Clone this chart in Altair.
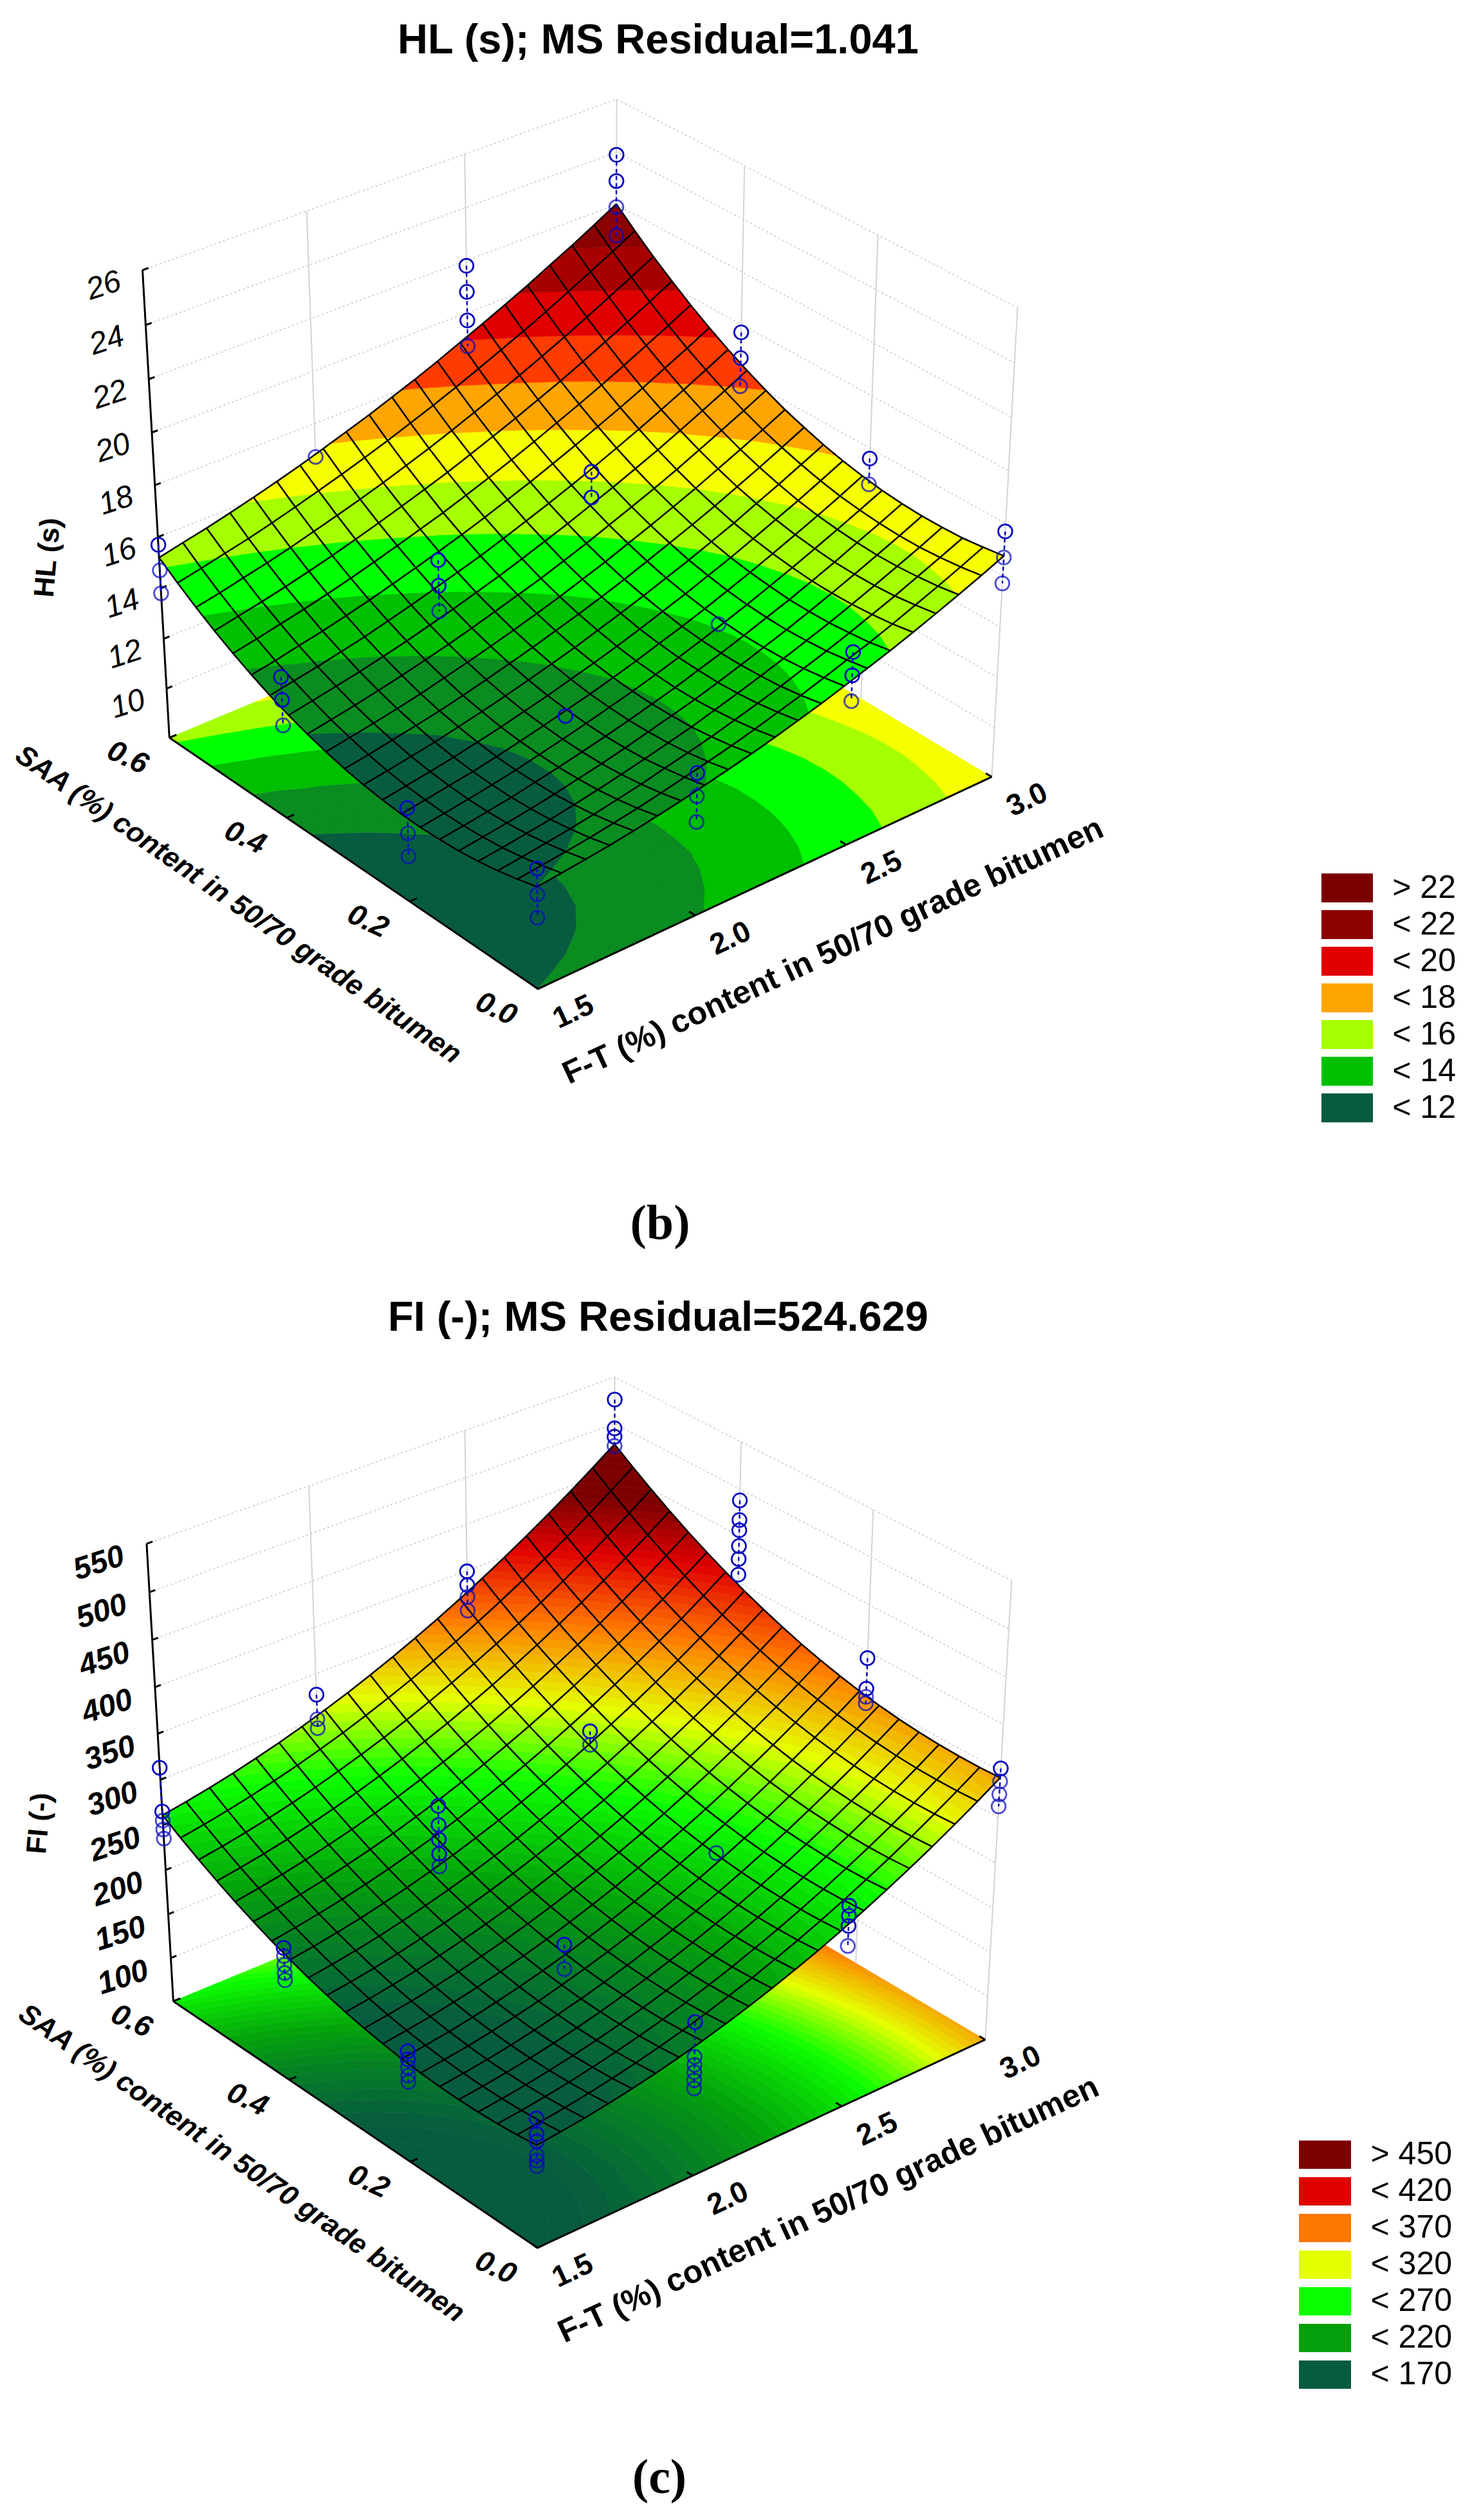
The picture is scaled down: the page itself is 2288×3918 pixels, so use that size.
import altair as alt
import numpy as np

FT_TICKS = [1.5, 2.0, 2.5, 3.0]
SAA_TICKS = [0.0, 0.2, 0.4, 0.6]
HL_Z_TICKS = [10, 12, 14, 16, 18, 20, 22, 24, 26]
FI_Z_TICKS = [100, 150, 200, 250, 300, 350, 400, 450, 500, 550]

# surface values: rows SAA 0.00..0.60 (step 0.03), columns F-T 1.5..3.0 (step 0.075)
HL_GRID = [
[12.00,12.10,12.21,12.33,12.47,12.63,12.80,12.99,13.19,13.40,13.63,13.88,14.14,14.42,14.71,15.01,15.33,15.67,16.02,16.38,16.76],
[11.78,11.89,12.00,12.12,12.27,12.43,12.61,12.81,13.01,13.22,13.46,13.72,13.98,14.27,14.57,14.86,15.19,15.54,15.89,16.26,16.65],
[11.60,11.71,11.83,11.96,12.11,12.28,12.46,12.67,12.87,13.09,13.34,13.59,13.86,14.16,14.45,14.77,15.10,15.44,15.81,16.18,16.56],
[11.46,11.57,11.70,11.83,11.99,12.16,12.35,12.55,12.77,12.99,13.25,13.51,13.79,14.08,14.39,14.70,15.04,15.39,15.76,16.13,16.53],
[11.36,11.48,11.61,11.75,11.91,12.10,12.28,12.49,12.72,12.95,13.19,13.46,13.75,14.05,14.35,14.68,15.02,15.38,15.75,16.13,16.53],
[11.30,11.42,11.56,11.70,11.88,12.06,12.26,12.47,12.69,12.93,13.18,13.47,13.75,14.05,14.37,14.69,15.04,15.40,15.79,16.17,16.57],
[11.28,11.41,11.55,11.70,11.87,12.07,12.27,12.49,12.72,12.96,13.22,13.50,13.79,14.10,14.42,14.76,15.11,15.48,15.86,16.25,16.65],
[11.30,11.44,11.59,11.73,11.91,12.11,12.32,12.55,12.77,13.02,13.29,13.58,13.87,14.18,14.51,14.85,15.21,15.58,15.96,16.36,16.78],
[11.36,11.50,11.65,11.81,12.00,12.19,12.41,12.63,12.88,13.13,13.40,13.69,14.00,14.31,14.65,14.98,15.35,15.73,16.11,16.52,16.94],
[11.46,11.60,11.76,11.92,12.12,12.32,12.54,12.77,13.02,13.27,13.56,13.85,14.16,14.48,14.81,15.16,15.52,15.92,16.31,16.72,17.14],
[11.60,11.75,11.92,12.09,12.27,12.48,12.71,12.95,13.20,13.47,13.74,14.04,14.35,14.69,15.03,15.38,15.75,16.14,16.54,16.96,17.39],
[11.78,11.94,12.10,12.28,12.47,12.70,12.92,13.17,13.42,13.69,13.97,14.28,14.59,14.94,15.28,15.64,16.01,16.41,16.81,17.23,17.66],
[12.00,12.16,12.33,12.52,12.72,12.94,13.17,13.42,13.69,13.96,14.24,14.55,14.87,15.22,15.57,15.93,16.31,16.72,17.13,17.55,17.99],
[12.26,12.43,12.61,12.79,13.00,13.22,13.46,13.71,13.98,14.26,14.56,14.88,15.20,15.55,15.90,16.27,16.65,17.06,17.48,17.91,18.36],
[12.56,12.74,12.91,13.11,13.31,13.55,13.79,14.05,14.33,14.60,14.91,15.23,15.56,15.91,16.27,16.65,17.04,17.45,17.87,18.31,18.76],
[12.90,13.07,13.27,13.46,13.68,13.91,14.17,14.43,14.70,14.99,15.30,15.63,15.96,16.32,16.69,17.07,17.46,17.87,18.31,18.74,19.20],
[13.28,13.46,13.66,13.86,14.08,14.32,14.58,14.85,15.13,15.41,15.73,16.06,16.40,16.76,17.14,17.52,17.92,18.34,18.78,19.22,19.68],
[13.70,13.89,14.08,14.29,14.52,14.76,15.03,15.30,15.59,15.89,16.20,16.54,16.89,17.25,17.63,18.01,18.42,18.86,19.29,19.74,20.21],
[14.16,14.35,14.56,14.77,15.00,15.26,15.52,15.79,16.08,16.39,16.71,17.05,17.41,17.78,18.16,18.56,18.97,19.40,19.85,20.30,20.76],
[14.66,14.86,15.07,15.28,15.52,15.78,16.05,16.33,16.63,16.94,17.27,17.61,17.97,18.35,18.74,19.13,19.55,19.99,20.44,20.89,21.37],
[15.20,15.41,15.61,15.84,16.08,16.34,16.61,16.91,17.21,17.52,17.86,18.20,18.57,18.96,19.35,19.75,20.17,20.62,21.06,21.53,22.02],
]
FI_GRID = [
[164.0,166.7,170.0,174.0,178.7,184.0,190.0,196.6,203.9,211.9,220.5,229.8,239.7,250.3,261.6,273.5,286.1,299.3,313.2,327.8,343.0],
[161.1,163.9,167.3,171.4,176.2,181.6,187.7,194.4,201.8,209.9,218.5,227.9,237.9,248.6,260.0,272.0,284.7,298.0,312.0,326.7,342.0],
[159.1,162.0,165.5,169.7,174.6,180.1,186.2,193.0,200.5,208.7,217.5,227.0,237.1,247.9,259.4,271.4,284.2,297.6,311.7,326.5,341.9],
[157.9,160.9,164.5,168.8,173.7,179.3,185.6,192.5,200.1,208.4,217.2,226.8,237.0,247.9,259.5,271.7,284.6,298.0,312.2,327.1,342.6],
[157.5,160.6,164.3,168.6,173.7,179.4,185.8,192.8,200.4,208.8,217.8,227.5,237.8,248.7,260.4,272.7,285.7,299.3,313.5,328.5,344.1],
[157.9,161.1,164.8,169.3,174.5,180.3,186.7,193.8,201.6,210.1,219.1,228.9,239.3,250.4,262.1,274.5,287.6,301.3,315.6,330.7,346.4],
[159.1,162.4,166.2,170.8,176.1,181.9,188.5,195.7,203.6,212.1,221.3,231.2,241.6,252.8,264.7,277.1,290.3,304.1,318.6,333.7,349.5],
[161.1,164.5,168.4,173.1,178.5,184.4,191.1,198.4,206.3,215.0,224.2,234.2,244.8,256.0,268.0,280.6,293.8,307.7,322.3,337.5,353.4],
[164.0,167.5,171.5,176.3,181.7,187.8,194.6,201.9,210.0,218.7,228.1,238.2,248.8,260.2,272.2,284.9,298.3,312.2,326.9,342.2,358.2],
[167.6,171.2,175.3,180.2,185.7,191.9,198.7,206.2,214.3,223.2,232.6,242.8,253.6,265.0,277.2,289.9,303.4,317.4,332.2,347.6,363.7],
[172.0,175.7,179.9,184.9,190.5,196.8,203.7,211.3,219.5,228.5,238.0,248.3,259.1,270.7,282.9,295.8,309.3,323.5,338.3,353.9,370.0],
[177.3,181.0,185.4,190.4,196.2,202.5,209.6,217.2,225.6,234.6,244.3,254.6,265.5,277.2,289.5,302.5,316.1,330.4,345.3,361.0,377.2],
[183.4,187.2,191.7,196.8,202.7,209.1,216.2,224.0,232.4,241.6,251.3,261.7,272.8,284.5,297.0,310.0,323.7,338.1,353.1,368.9,385.2],
[190.2,194.1,198.7,203.9,209.8,216.4,223.6,231.4,240.0,249.2,259.0,269.6,280.7,292.5,305.1,318.2,332.0,346.5,361.6,377.4,393.9],
[197.9,201.9,206.6,211.9,217.9,224.5,231.9,239.8,248.4,257.8,267.7,278.3,289.5,301.5,314.1,327.3,341.3,355.8,371.0,387.0,403.5],
[206.4,210.5,215.2,220.7,226.8,233.5,240.9,249.0,257.7,267.1,277.1,287.9,299.2,311.2,323.9,337.3,351.3,365.9,381.2,397.3,413.9],
[215.7,219.9,224.7,230.3,236.5,243.3,250.8,258.9,267.8,277.3,287.4,298.2,309.6,321.7,334.6,348.0,362.1,376.8,392.2,408.4,425.1],
[225.8,230.1,235.0,240.6,247.0,253.9,261.5,269.7,278.6,288.2,298.4,309.4,320.9,333.1,346.0,359.5,373.7,388.5,404.1,420.3,437.1],
[236.7,241.1,246.1,251.8,258.2,265.2,273.0,281.3,290.3,300.0,310.3,321.3,332.9,345.2,358.2,371.8,386.1,401.1,416.7,433.0,449.9],
[248.4,252.9,258.0,263.8,270.3,277.4,285.2,293.6,302.7,312.5,322.9,334.0,345.7,358.2,371.3,385.0,399.4,414.4,430.1,446.5,463.5],
[261.0,265.6,270.8,276.7,283.3,290.5,298.4,306.9,316.1,326.0,336.5,347.7,359.5,372.0,385.2,399.0,413.5,428.6,444.4,460.9,478.0],
]

# observations: rows SAA 0/0.2/0.4/0.6, columns F-T 1.5/2/2.5/3
HL_OBS = [
[[12.7,11.7,10.8],[13.6,12.7,11.7],[15.6,14.7,13.7],[17.7,16.7,15.7]],
[[11.7,10.7,9.8],[12.6],[13.6],[17.6,16.6]],
[[13.6,12.7,11.7],[15.6,14.6,13.6],[16.6,15.6],[19.7,18.7,17.6]],
[[15.7,14.7,13.8],[16.7],[21.8,20.8,19.7,18.7],[23.9,22.9,21.9,20.8]],
]
FI_OBS = [
[[193,176,168,153,147,141],[221,183,174,166,157,148],[274,263,252,230],[353,339,325,312]],
[[174,165,156,147,140],[217,190],[247],[393,360,351,344]],
[[199,190,180,171,163],[285,264,248,232,218],[300,285],[488,467,456,439,425,408]],
[[313,265,255,245,235],[327,300,290],[399,384,371,356],[526,495,486,476]],
]

HL_EDGES = [-1e9, 12, 13, 14, 15, 16, 17, 18, 19, 20, 21, 22, 1e9]
HL_COLORS = ["#075C40", "#0A8C20", "#00BE00", "#00FF00", "#A5FF00", "#F5FF00", "#FFA500",
             "#FF3C00", "#E00000", "#A80000", "#8B0000", "#7A0000"]
FI_EDGES = [-1e9] + list(range(125, 485, 5)) + [1e9]
FI_STOPS = [170, 220, 270, 312, 360, 405, 440]
FI_STOP_COLORS = ["#075C40", "#04A00C", "#0CFF00", "#E4FF00", "#FF7800", "#E00000", "#7D0000"]

HL_LEGEND = ["> 22", "< 22", "< 20", "< 18", "< 16", "< 14", "< 12"]
HL_LEGEND_COLORS = ["#7A0000", "#8B0000", "#E00000", "#FFA500", "#A5FF00", "#00C000", "#075C40"]
FI_LEGEND = ["> 450", "< 420", "< 370", "< 320", "< 270", "< 220", "< 170"]
FI_LEGEND_COLORS = ["#7D0000", "#E00000", "#FF7800", "#E4FF00", "#0CFF00", "#04A00C", "#075C40"]

PANELS = [
    dict(title="HL (s); MS Residual=1.041", tpos=(1023, 63), caption="(b)", cpos=(1026, 1903),
         ztitle="HL (s)", zpos=(75, 867), grid=HL_GRID, obs=HL_OBS, zticks=HL_Z_TICKS,
         base=8, top=26, edges=HL_EDGES, colors=HL_COLORS,
         legend=HL_LEGEND, lcolors=HL_LEGEND_COLORS, lx=(2054, 2134, 2263), ly=(1358, 57.0, 45),
         zoff=(-60, 25), zweight="normal",
         saa=(370, 1407), ft=(1295, 1479),
         calib=[(0, 0, 0, 835.5, 1541), (0, 1, 0, 260, 1149), (1, 0, 0, 1545, 1207), (1, 1, 0, 957.6, 858),
                (0, 1, 1, 222, 419), (1, 0, 1, 1583, 478), (1, 1, 1, 957, 156),
                (0, 1/3, 0, 641, 1400.6), (0, 2/3, 0, 451.5, 1270), (1/3, 0, 0, 1077, 1423), (2/3, 0, 0, 1310, 1313),
                (0, 1, 1/9, 257, 1069)]),
    dict(title="FI (-); MS Residual=524.629", tpos=(1023, 2049), caption="(c)", cpos=(1025, 3853),
         ztitle="FI (-)", zpos=(62, 2835), grid=FI_GRID, obs=FI_OBS, zticks=FI_Z_TICKS,
         base=50, top=550, edges=FI_EDGES, colors=None,
         legend=FI_LEGEND, lcolors=FI_LEGEND_COLORS, lx=(2019, 2100, 2257), ly=(3328, 57.0, 44),
         zoff=(-74, 31), zweight="bold",
         saa=(375, 3364), ft=(1288, 3436),
         calib=[(0, 0, 0, 835.5, 3497.6), (0, 1, 0, 268, 3113.6), (1, 0, 0, 1535, 3171), (1, 1, 0, 953, 2829),
                (0, 1, 1, 228, 2399), (1, 0, 1, 1573, 2457.5), (1, 1, 1, 955, 2142),
                (0, 1/3, 0, 641, 3360.5), (0, 2/3, 0, 451.5, 3231.6), (1/3, 0, 0, 1074, 3382.8), (2/3, 0, 0, 1304, 3273),
                (0, 1, 0.1, 265, 3043.5)]),
]


def fit_camera(calib):
    ox, oy = calib[0][3], calib[0][4]
    rows, rhs = [], []
    for u, v, w, x, y in calib:
        X, Y = (x - ox) / 1000, (y - oy) / 1000
        rows.append([u, v, w, 1, 0, 0, 0, 0, -X * u, -X * v, -X * w]); rhs.append(X)
        rows.append([0, 0, 0, 0, u, v, w, 1, -Y * u, -Y * v, -Y * w]); rhs.append(Y)
    p = np.linalg.lstsq(np.array(rows), np.array(rhs), rcond=None)[0]

    def cam(u, v, w):
        d = p[8] * u + p[9] * v + p[10] * w + 1
        return (float((p[0] * u + p[1] * v + p[2] * w + p[3]) / d * 1000 + ox),
                float((p[4] * u + p[5] * v + p[6] * w + p[7]) / d * 1000 + oy))
    return cam


def clip_poly(poly, level, keep_above):
    out = []
    n = len(poly)
    for k in range(n):
        a, b = poly[k], poly[(k + 1) % n]
        ina = (a[2] >= level) if keep_above else (a[2] <= level)
        inb = (b[2] >= level) if keep_above else (b[2] <= level)
        if ina:
            out.append(a)
        if ina != inb:
            f = (level - a[2]) / (b[2] - a[2])
            out.append((a[0] + f * (b[0] - a[0]), a[1] + f * (b[1] - a[1]), level))
    return out


def hex_mix(c1, c2, f):
    a = [int(c1[i:i + 2], 16) for i in (1, 3, 5)]
    b = [int(c2[i:i + 2], 16) for i in (1, 3, 5)]
    return "#%02X%02X%02X" % tuple(round(x + f * (y - x)) for x, y in zip(a, b))


def fi_color(v):
    if v <= FI_STOPS[0]:
        return FI_STOP_COLORS[0]
    for k in range(len(FI_STOPS) - 1):
        if v <= FI_STOPS[k + 1]:
            return hex_mix(FI_STOP_COLORS[k], FI_STOP_COLORS[k + 1], (v - FI_STOPS[k]) / (FI_STOPS[k + 1] - FI_STOPS[k]))
    return FI_STOP_COLORS[-1]


lines = {"grid": [], "vert": [], "axis": [], "mesh": [], "conn": []}
floor_feats, surf_feats, points, rects = [], [], [], []
texts = {}


def add_line(style, name, pts):
    for o, (x, y) in enumerate(pts):
        lines[style].append({"g": name, "o": o, "x": round(x, 1), "y": round(y, 1)})


def add_text(key, t, x, y, a, s):
    texts.setdefault(key, []).append({"t": t, "x": x, "y": y, "a": a % 360, "s": s})


for pn, P in enumerate(PANELS):
    cam = fit_camera(P["calib"])
    base, top = P["base"], P["top"]
    grid = np.array(P["grid"])
    nj, ni = grid.shape
    W = lambda z: (z - base) / (top - base)

    # contour bands, one multipolygon per band for the surface and for the floor
    edges = P["edges"]
    for b in range(len(edges) - 1):
        lo, hi = edges[b], edges[b + 1]
        if P["colors"] is not None:
            col = P["colors"][b]
        else:
            col = fi_color(edges[b + 1] - 2.5 if b + 1 < len(edges) - 1 else edges[b] + 2.5)
        sp, fp = [], []
        for j in range(nj - 1):
            for i in range(ni - 1):
                va = (i, j, grid[j][i]); vb = (i + 1, j, grid[j][i + 1])
                vc = (i + 1, j + 1, grid[j + 1][i + 1]); vd = (i, j + 1, grid[j + 1][i])
                for tri in ((va, vb, vc), (va, vc, vd)):
                    vals = [q[2] for q in tri]
                    if max(vals) < lo or min(vals) > hi:
                        continue
                    poly = clip_poly(list(tri), lo, True)
                    if len(poly) >= 3:
                        poly = clip_poly(poly, hi, False)
                    if len(poly) < 3:
                        continue
                    s_ring, f_ring = [], []
                    for q in poly + [poly[0]]:
                        u, v = q[0] / (ni - 1), q[1] / (nj - 1)
                        xs, ys = cam(u, v, W(float(q[2])))
                        xf, yf = cam(u, v, 0)
                        s_ring.append([round(xs, 1), round(ys, 1)])
                        f_ring.append([round(xf, 1), round(yf, 1)])
                    sp.append([s_ring]); fp.append([f_ring])
        if sp:
            surf_feats.append({"type": "Feature", "geometry": {"type": "MultiPolygon", "coordinates": sp}, "properties": {"c": col}})
            floor_feats.append({"type": "Feature", "geometry": {"type": "MultiPolygon", "coordinates": fp}, "properties": {"c": col}})

    # mesh
    for j in range(nj):
        add_line("mesh", f"{pn}r{j}", [cam(i / (ni - 1), j / (nj - 1), W(grid[j][i])) for i in range(ni)])
    for i in range(ni):
        add_line("mesh", f"{pn}c{i}", [cam(i / (ni - 1), j / (nj - 1), W(grid[j][i])) for j in range(nj)])

    # walls
    for z in P["zticks"]:
        w = W(z)
        add_line("grid", f"{pn}l{z}", [cam(0, 1, w), cam(1, 1, w), cam(1, 0, w)])
        add_line("axis", f"{pn}zt{z}", [cam(0, 1, w), cam(0.012, 1, w)])
        ax, ay = cam(0, 1, w)
        add_text(("Liberation Sans", P["zweight"], "italic"), str(z), ax + P["zoff"][0], ay + P["zoff"][1], -18, 48)
    for k in range(1, 4):
        add_line("vert", f"{pn}vl{k}", [cam(k / 3, 1, 0.35), cam(k / 3, 1, 1)])
    for k in range(0, 3):
        add_line("vert", f"{pn}vr{k}", [cam(1, k / 3, 0), cam(1, k / 3, 1)])

    # axes
    add_line("axis", f"{pn}zax", [cam(0, 1, 0), cam(0, 1, 1)])
    add_line("axis", f"{pn}fa", [cam(0, 1, 0), cam(0, 0, 0), cam(1, 0, 0)])
    for k, v in enumerate(FT_TICKS):
        x, y = cam(k / 3, 0, 0)
        add_line("axis", f"{pn}ftt{k}", [(x, y), cam(k / 3, 0.015, 0)])
        add_text(("Liberation Sans", "bold", "normal"), f"{v:.1f}", x + 55, y + 36, -25, 46)
    for k, v in enumerate(SAA_TICKS):
        x, y = cam(0, k / 3, 0)
        add_line("axis", f"{pn}saat{k}", [(x, y), cam(0.015, k / 3, 0)])
        add_text(("Liberation Sans", "bold", "italic"), f"{v:.1f}", x - 65, y + 31, 25, 46)

    # observations
    for r, row in enumerate(P["obs"]):
        for c, vals in enumerate(row):
            u, v = c / 3, r / 3
            surf = grid[round(v * (nj - 1))][round(u * (ni - 1))]
            pts = [cam(u, v, W(z)) for z in vals]
            if len(pts) > 1:
                add_line("conn", f"{pn}o{r}{c}", pts)
            for z, (x, y) in zip(vals, pts):
                points.append({"x": round(x, 1), "y": round(y, 1), "op": 1.0 if z >= surf else 0.72})

    # text
    add_text(("Liberation Sans", "bold", "normal"), P["title"], P["tpos"][0], P["tpos"][1], 0, 65)
    add_text(("Liberation Serif", "bold", "normal"), P["caption"], P["cpos"][0], P["cpos"][1], 0, 76)
    add_text(("Liberation Sans", "bold", "normal"), P["ztitle"], P["zpos"][0], P["zpos"][1], 275, 44)
    add_text(("Liberation Sans", "bold", "italic"), "SAA (%) content in 50/70 grade bitumen", P["saa"][0], P["saa"][1], 34.8, 44)
    add_text(("Liberation Sans", "bold", "normal"), "F-T (%) content in 50/70 grade bitumen", P["ft"][0], P["ft"][1], -24.9, 50)

    # legend
    x0, x1, xt = P["lx"]
    y0, pitch, hgt = P["ly"]
    for k, (lab, col) in enumerate(zip(P["legend"], P["lcolors"])):
        rects.append({"x": x0, "x2": x1, "y": y0 + k * pitch, "y2": y0 + k * pitch + hgt, "c": col})
        add_text(("Liberation Sans", "normal", "normal", "right"), lab, xt, y0 + k * pitch + hgt / 2, 0, 50)

SX = alt.Scale(domain=[8, 2280], nice=False, zero=False)
SY = alt.Scale(domain=[3910, 8], nice=False, zero=False)
X = alt.X("x:Q", scale=SX, axis=None)
Y = alt.Y("y:Q", scale=SY, axis=None)


def shape_layer(feats):
    return alt.Chart(alt.Data(values=feats)).mark_geoshape(strokeWidth=0.6).encode(
        color=alt.Color("properties.c:N", scale=None),
        stroke=alt.Stroke("properties.c:N", scale=None),
    ).project(type="identity", scale=1, translate=[-8, -8])


def line_layer(style, **mark):
    return alt.Chart(alt.Data(values=lines[style])).mark_line(**mark).encode(
        x=X, y=Y, detail=alt.Detail("g:N"), order=alt.Order("o:Q"))


layers = [
    shape_layer(floor_feats),
    line_layer("grid", color="#C8C8C8", strokeWidth=1.5, strokeDash=[3, 4]),
    line_layer("vert", color="#D4D4D4", strokeWidth=2),
    line_layer("axis", color="#000000", strokeWidth=3),
    shape_layer(surf_feats),
    line_layer("mesh", color="#000000", strokeWidth=2.5),
    line_layer("conn", color="#0A0AC0", strokeWidth=2.5, strokeDash=[6, 5]),
    alt.Chart(alt.Data(values=points)).mark_point(filled=False, color="#0A0AC0", size=470, strokeWidth=2.8).encode(
        x=X, y=Y, opacity=alt.Opacity("op:Q", scale=None)),
    alt.Chart(alt.Data(values=rects)).mark_rect().encode(
        x=X, y=Y, x2="x2:Q", y2="y2:Q", color=alt.Color("c:N", scale=None)),
]
for key, rows in texts.items():
    align = key[3] if len(key) > 3 else "center"
    layers.append(
        alt.Chart(alt.Data(values=rows)).mark_text(font=key[0], fontWeight=key[1], fontStyle=key[2], align=align,
                                                   baseline="middle", color="#000000").encode(
            x=X, y=Y, text="t:N", angle=alt.Angle("a:Q", scale=None), size=alt.Size("s:Q", scale=None)))

chart = alt.layer(*layers).properties(
    width=2272, height=3902, padding=0, autosize=alt.AutoSizeParams(type="none"), background="white"
).configure_view(stroke=None)
chart.save("out.html", embed_options={"renderer": "svg", "actions": False})
